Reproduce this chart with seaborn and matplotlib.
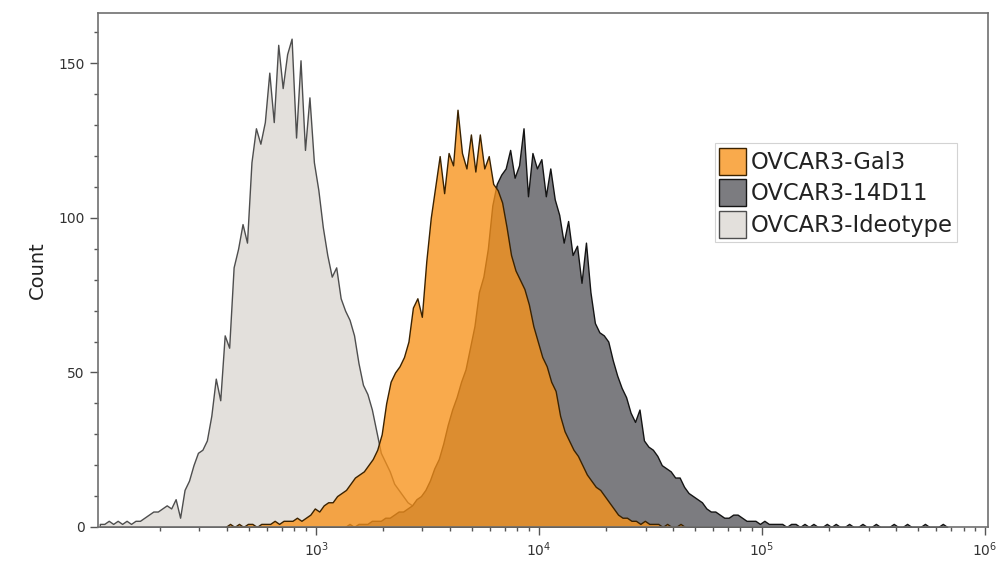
import numpy as np
import pandas as pd
import matplotlib
matplotlib.use("Agg")
import matplotlib.pyplot as plt
import matplotlib.ticker as mticker
import seaborn as sns

# Flow cytometry channel histograms: counts per log10-spaced channel bin
BIN_STEP = 0.02  # log10 width of one channel bin

IDIOTYPE_LABEL = "OVCAR3-Ideotype"
IDIOTYPE_START = 2.03
idiotype_counts = [
    1, 1, 2, 1, 2, 1, 2, 1, 2, 2, 3, 4, 5, 5, 6, 7, 6, 9, 3, 12,
    15, 20, 24, 25, 28, 36, 48, 41, 62, 58, 84, 90, 98, 92, 118, 129, 124, 131, 147, 131,
    156, 142, 153, 158, 126, 151, 122, 139, 118, 109, 97, 88, 81, 84, 74, 70, 67, 62, 53, 46,
    43, 38, 31, 24, 21, 18, 14, 12, 10, 8, 7, 5, 4, 3, 3, 2, 2, 1, 1, 1,
    0, 1, 0, 0,
]

GAL3_LABEL = "OVCAR3-Gal3"
GAL3_START = 2.594
gal3_counts = [
    0, 1, 0, 1, 0, 1, 1, 0, 1, 1, 1, 2, 1, 2, 2, 2, 3, 2, 3, 4,
    6, 5, 7, 8, 8, 10, 11, 12, 14, 16, 17, 18, 20, 22, 25, 30, 40, 47, 50, 52,
    55, 60, 71, 74, 68, 86, 100, 110, 120, 108, 121, 117, 135, 121, 116, 127, 115, 127, 116, 120,
    111, 109, 105, 97, 88, 83, 80, 77, 72, 65, 60, 55, 52, 47, 44, 36, 31, 28, 25, 23,
    20, 17, 15, 13, 12, 10, 8, 6, 4, 3, 3, 2, 2, 1, 2, 1, 1, 1, 0, 1,
    0, 0, 1, 0,
]

MAB_LABEL = "OVCAR3-14D11"
MAB_START = 3.13
mab_counts = [
    0, 1, 0, 1, 1, 1, 2, 2, 2, 3, 3, 4, 5, 5, 6, 7, 9, 10, 12, 15,
    19, 22, 27, 33, 38, 42, 47, 51, 58, 65, 76, 81, 90, 104, 111, 114, 116, 122, 113, 117,
    129, 107, 121, 116, 119, 107, 116, 106, 101, 92, 99, 88, 91, 79, 92, 76, 66, 63, 62, 60,
    54, 49, 45, 42, 37, 34, 38, 28, 26, 25, 23, 20, 19, 18, 16, 16, 13, 11, 10, 9,
    8, 6, 5, 5, 4, 3, 3, 4, 4, 3, 2, 2, 2, 1, 2, 1, 1, 1, 1, 0,
    1, 1, 0, 1, 0, 1, 0, 0, 1, 0, 1, 0, 0, 1, 0, 0, 1, 0, 0, 1,
    0, 0, 0, 1, 0, 0, 1, 0, 0, 0, 1, 0, 0, 0, 1, 0,
]

sns.set_style("white")
plt.rcParams["font.family"] = ["DejaVu Sans"]

fig = plt.figure(figsize=(9.99, 5.62), dpi=100)
ax = fig.add_axes([0.0981, 0.0623, 0.8909, 0.9146])


def channel_frame(start, counts, label):
    centers = start + BIN_STEP * np.arange(len(counts))
    return pd.DataFrame({"value": 10.0 ** centers, "count": counts, "sample": label})


series = [
    (IDIOTYPE_START, idiotype_counts, IDIOTYPE_LABEL, "#E3E0DC", "#4E4E4E", 1.0),
    (MAB_START, mab_counts, MAB_LABEL, "#7C7C80", "#141414", 1.0),
    (GAL3_START, gal3_counts, GAL3_LABEL, "#F8921A", "#3A2200", 0.78),
]

for start, counts, label, face, edge, alpha in series:
    df = channel_frame(start, counts, label)
    sns.histplot(
        data=df, x="value", weights="count", ax=ax,
        log_scale=True, binwidth=BIN_STEP,
        binrange=(start - BIN_STEP / 2, start + BIN_STEP * (len(counts) - 0.5)),
        element="poly", fill=True, color=face, alpha=alpha,
        edgecolor=edge, linewidth=1.0, label=label,
    )

ax.set_xlim(10 ** 2.022, 10 ** 6.013)
ax.set_ylim(0, 166.3)
ax.set_xlabel("")
ax.set_ylabel("Count", fontsize=14, color="#222222")
ax.yaxis.set_label_coords(-0.058, 0.5)

ax.xaxis.set_major_locator(mticker.LogLocator(base=10, numticks=10))
ax.xaxis.set_minor_locator(mticker.LogLocator(base=10, subs=np.arange(2, 10), numticks=20))
ax.xaxis.set_minor_formatter(mticker.NullFormatter())
ax.yaxis.set_major_locator(mticker.MultipleLocator(50))
ax.yaxis.set_minor_locator(mticker.MultipleLocator(10))

ax.tick_params(which="both", direction="out", color="#555555", labelcolor="#333333",
               labelsize=10, width=1.0)
ax.tick_params(which="major", length=6)
ax.tick_params(which="minor", length=3)
ax.tick_params(axis="x", which="both", bottom=True)
ax.tick_params(axis="y", which="both", left=True)

for spine in ax.spines.values():
    spine.set_visible(True)
    spine.set_color("#707070")
    spine.set_linewidth(1.2)

handles, labels = ax.get_legend_handles_labels()
lookup = dict(zip(labels, handles))
order = [GAL3_LABEL, MAB_LABEL, IDIOTYPE_LABEL]
leg = ax.legend(
    [lookup[k] for k in order], order,
    loc="upper left", bbox_to_anchor=(0.693, 0.747),
    fontsize=16.3, frameon=True, fancybox=False,
    handlelength=1.2, handleheight=1.46, handletextpad=0.17,
    labelspacing=0.2, borderpad=0.2, borderaxespad=0.0,
)
leg.get_frame().set_edgecolor("#C8C8C8")
leg.get_frame().set_linewidth(0.8)
for txt in leg.get_texts():
    txt.set_color("#222222")

fig.savefig("out.png", dpi=100)
